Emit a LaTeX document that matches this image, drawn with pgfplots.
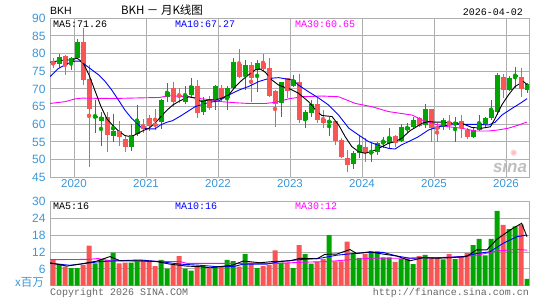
\documentclass[border=0pt]{standalone}
\usepackage{pgfplots}
\pgfplotsset{compat=1.18}
\usepackage{pgfplotstable}
\usepackage{fontspec}
\setmainfont{Liberation Sans}
\newfontfamily\mono{Liberation Mono}
\newfontfamily\cjk{Noto Sans CJK SC}
\newfontfamily\dejavu{DejaVu Sans}
\definecolor{up}{RGB}{0,165,0}
\definecolor{dn}{RGB}{250,85,85}
\definecolor{lbl}{RGB}{60,150,215}
\definecolor{grd}{RGB}{175,175,175}
\definecolor{mag}{RGB}{255,0,255}
\definecolor{ma10}{RGB}{0,0,255}

\pgfplotstableread{
i o h l c
1 77.1 79.8 76.0 79.0
3 77.5 79.0 75.4 78.9
4 78.9 84.2 78.5 83.2
7 62.0 67.0 57.6 62.3
8 61.0 63.4 54.0 62.2
10 56.8 62.8 55.0 58.1
13 53.6 60.0 52.5 57.0
14 57.2 65.5 56.6 60.9
18 60.7 67.2 58.6 67.0
19 67.8 71.6 66.2 69.2
22 66.2 70.7 65.8 68.3
23 68.3 73.2 67.8 70.7
25 63.6 67.8 62.6 66.9
27 66.9 71.1 64.0 70.9
29 67.5 70.7 64.0 70.4
30 70.2 78.7 70.0 77.5
32 74.0 78.2 69.7 76.8
34 75.4 78.2 69.2 77.3
38 65.9 72.1 62.2 71.9
40 70.9 74.0 70.5 72.5
42 61.2 64.0 58.9 63.6
43 63.1 66.9 62.2 65.7
46 60.6 62.2 56.8 60.8
50 48.7 52.5 47.4 51.8
51 51.8 57.0 50.4 54.2
53 52.0 54.6 49.4 52.3
54 52.3 55.0 51.3 54.6
55 55.0 56.5 53.2 55.2
56 54.6 59.0 53.2 56.5
58 55.3 60.0 55.0 59.1
59 58.4 60.3 57.5 59.3
60 59.3 62.2 58.9 61.2
62 59.8 65.7 58.9 64.2
65 59.3 61.7 58.4 61.2
67 59.8 62.2 55.1 60.6
70 56.5 58.9 56.0 58.4
71 58.4 62.6 58.0 60.3
72 60.0 62.2 59.3 61.9
73 61.7 66.9 61.3 64.0
74 63.6 74.4 62.6 74.0
76 69.7 73.8 69.3 73.2
77 73.6 76.3 70.4 73.9
79 69.7 71.6 69.0 71.3
}\upT

\pgfplotstableread{
i o h l c
0 77.5 78.7 75.8 77.2
2 79.2 79.6 74.0 76.8
5 83.4 87.2 71.1 72.5
6 72.8 76.8 48.0 64.3
9 62.2 63.6 52.3 57.0
11 58.2 61.0 54.0 56.5
12 55.8 57.0 52.1 53.7
15 59.5 61.5 57.5 59.0
16 61.8 62.7 58.0 59.4
17 60.2 64.2 58.4 59.6
20 70.4 72.0 65.0 66.2
21 68.2 70.4 66.0 67.9
24 70.8 72.5 61.9 63.1
26 67.2 67.9 64.0 64.7
28 70.2 71.0 66.6 67.5
31 77.0 81.3 73.2 73.5
33 76.8 77.7 66.4 73.2
35 77.3 79.8 75.0 75.7
36 75.8 78.7 67.8 68.1
37 69.4 69.6 59.1 65.7
39 73.0 73.2 67.4 69.4
41 72.1 74.2 60.3 61.2
44 65.7 67.4 60.3 61.2
45 61.5 64.0 58.9 60.3
47 60.8 61.0 54.2 55.3
48 55.6 56.0 50.4 50.8
49 50.6 52.7 46.6 48.5
52 53.7 56.0 49.4 51.8
57 56.8 57.0 53.7 54.6
61 61.7 62.2 59.3 59.6
63 64.2 64.4 55.1 58.9
64 59.2 60.3 55.1 58.7
66 60.6 62.5 58.4 60.0
68 60.9 62.6 56.0 58.9
69 58.4 58.9 55.8 56.5
75 73.4 74.2 67.4 69.7
78 73.3 75.8 67.8 70.0
}\dnT

\pgfplotstableread{
i v
1 7.8
3 6.3
4 6.3
7 8.0
8 9.5
10 11.8
13 8.2
14 8.9
18 9.2
19 6.1
22 6.1
23 5.4
25 7.1
27 6.6
29 9.2
30 8.8
32 11.3
34 6.3
38 8.2
40 6.3
42 11.3
43 7.9
46 18.1
50 11.7
51 9.9
53 12.3
54 12.3
55 10.1
56 10.1
58 9.5
59 9.5
60 7.7
62 11.0
65 9.4
67 9.5
70 14.5
71 16.7
72 10.8
73 16.7
74 26.7
76 20.2
77 21.2
79 2.4
}\vupT

\pgfplotstableread{
i v
0 9.5
2 6.8
5 7.4
6 14.3
9 9.2
11 8.0
12 8.2
15 8.9
16 8.9
17 7.0
20 7.4
21 10.6
24 6.8
26 6.2
28 6.6
31 6.8
33 8.2
35 7.0
36 7.4
37 12.6
39 8.2
41 14.5
44 8.5
45 9.5
47 8.7
48 8.7
49 15.7
52 11.3
57 8.5
61 10.6
63 9.9
64 9.9
66 11.3
68 10.5
69 11.7
75 21.7
78 21.8
}\vdnT

\begin{document}
\begin{tikzpicture}[x=1pt,y=1pt]
\useasboundingbox (0,0) rectangle (545,300);
% ---------------- price panel
\begin{axis}[at={(50pt,122.7pt)}, anchor=south west, scale only axis,
  width=479pt, height=159pt,
  xmin=-0.5, xmax=79.33, ymin=45, ymax=90,
  ytick={45,50,...,90},
  xtick={3.5,15.5,27.5,39.5,51.5,63.5,75.5},
  xticklabels={2020,2021,2022,2023,2024,2025,2026},
  grid=major, grid style={grd, line width=1pt},
  axis line style={grd, line width=1pt},
  major tick length=0pt,
  /pgf/number format/assume math mode=true,
  yticklabel style={text=lbl, font=\fontsize{12}{12}\selectfont, xshift=-1pt},
  xticklabel style={text=lbl, font=\fontsize{11.5}{12}\selectfont, yshift=1pt},
  clip=true]
% wicks
\addplot[up, only marks, mark=none, forget plot,
  error bars/.cd, y dir=both, y explicit, error mark=none,
  error bar style={line width=1pt, up}]
  table[x=i, y expr={(\thisrow{h}+\thisrow{l})/2}, y error expr={(\thisrow{h}-\thisrow{l})/2}]{\upT};
\addplot[dn, only marks, mark=none, forget plot,
  error bars/.cd, y dir=both, y explicit, error mark=none,
  error bar style={line width=1pt, dn}]
  table[x=i, y expr={(\thisrow{h}+\thisrow{l})/2}, y error expr={(\thisrow{h}-\thisrow{l})/2}]{\dnT};
% bodies
\addplot[up, only marks, mark=none, forget plot,
  error bars/.cd, y dir=both, y explicit, error mark=none,
  error bar style={line width=5pt, up}]
  table[x=i, y expr={(\thisrow{o}+\thisrow{c})/2}, y error expr={max(abs(\thisrow{o}-\thisrow{c})/2,0.15)}]{\upT};
\addplot[dn, only marks, mark=none, forget plot,
  error bars/.cd, y dir=both, y explicit, error mark=none,
  error bar style={line width=5pt, dn}]
  table[x=i, y expr={(\thisrow{o}+\thisrow{c})/2}, y error expr={max(abs(\thisrow{o}-\thisrow{c})/2,0.15)}]{\dnT};
% MA lines
\addplot[mag, line width=0.9pt, mark=none] coordinates {(-0.5,65.9)(2,66.4)(3.7,67.2)(4.8,67.4)(10,67.3)(17.8,67.6)(19.25,68.1)(22.6,67.8)(24.8,67.2)(26.5,66.9)(28.1,66.4)(30.4,66.1)(32.6,65.9)(35.4,65.9)(37,66.2)(39.25,67.2)(41.5,67.8)(44.8,68)(47.6,67.8)(50.4,65.9)(53.1,65)(55.9,63.6)(59.9,62.6)(61.5,61.2)(63.7,60)(65.9,59.3)(68.1,58.9)(70.4,58.1)(72.6,58.1)(74.2,58.4)(75.9,58.9)(77.6,59.8)(79,60.65)};
\addplot[ma10, line width=0.9pt, mark=none] coordinates {(-0.5,73.5)(0.9,75.8)(2.6,77.3)(3.7,77.9)(4.5,77.9)(5.4,76.8)(6.5,75.4)(7.6,74)(8.7,72.1)(9.8,69.7)(10.9,66.9)(12,64)(13.1,61.7)(14,60.3)(14.8,58.9)(15.9,58.7)(17,58.7)(17.9,59.8)(19,60.6)(19.9,61)(21.5,62.6)(23.7,65)(26,66.2)(27.6,66.6)(29.3,68.3)(31,69.7)(32.6,70.7)(34.3,72.1)(36,73)(37.6,73.2)(40,72.5)(40.9,71.1)(42.6,69.2)(44.3,67.4)(45.9,65.5)(47.6,62.6)(49.3,58.9)(50.9,57)(52.6,55.1)(54.3,54)(55.9,53.2)(57,53)(58.1,54.2)(59.5,55.3)(60.9,56.5)(62.6,58.4)(64.25,59.3)(65.9,59.8)(67.6,60)(69.25,60)(70.9,60)(72.6,59.8)(73.7,60.6)(74.8,62.6)(76.5,64.5)(78.1,66.2)(79,67.27)};
\addplot[black, line width=0.9pt, mark=none] coordinates {(-0.5,77.6)(0,77.7)(1,78.0)(2,78.2)(3,78.2)(4,78.7)(5,77.5)(6,74)(7,69.5)(8,65)(9,61.5)(10,59.6)(11,58)(12,56.8)(13,56.5)(14,57.3)(15,58.2)(16,58.9)(17,60.3)(18,62.2)(19,64.0)(20,65.5)(21,66.5)(22.6,67.8)(23.7,67.4)(24.8,66.4)(25.9,66.9)(27,66.9)(28.1,67.4)(29.3,68.3)(30.4,70.7)(31.5,72.5)(32.6,74)(33.7,75.4)(34.5,75.7)(35.4,74.7)(36.5,72.5)(37.6,71.1)(38.7,70.4)(39.5,70)(40.9,68.8)(42.6,66.4)(44,63.6)(44.8,62.5)(46.5,62.2)(47.6,59.8)(48.7,56.5)(49.8,53.7)(50.9,52.3)(52,51.8)(53.1,52.3)(54.3,53.2)(55.9,54.6)(57,55.1)(58.1,56)(59.5,58.2)(60.4,59.1)(61.5,60.3)(62.6,60.8)(63.7,60.6)(64.8,60.6)(66.5,60.3)(68.1,60.3)(69.8,59.1)(71.5,58.9)(72.9,59.3)(73.7,61.7)(74.8,65.5)(75.9,68.3)(77,70.7)(78.4,72.1)(79,71.26)};
\end{axis}
% ---------------- volume panel
\begin{axis}[at={(50pt,14.3pt)}, anchor=south west, scale only axis,
  width=479pt, height=84pt,
  xmin=-0.5, xmax=79.33, ymin=0, ymax=30,
  ytick={0,6,12,18,24,30}, yticklabels={,6,12,18,24,30},
  xtick=\empty,
  ymajorgrids, grid style={grd, line width=1pt},
  axis line style={grd, line width=1pt},
  major tick length=0pt,
  yticklabel style={text=lbl, font=\fontsize{12}{12}\selectfont, xshift=-1pt},
  clip=true]
\addplot[ybar, bar width=5pt, fill=up, draw=none, forget plot] table[x=i,y=v]{\vupT};
\addplot[ybar, bar width=5pt, fill=dn, draw=none, forget plot] table[x=i,y=v]{\vdnT};
\addplot[mag, line width=0.9pt, mark=none] coordinates {(-0.5,9.3)(6,9.4)(7.5,9.7)(9.5,8.9)(21.2,8.6)(22.3,8.0)(37.8,8.0)(41.7,8.4)(45.6,8.6)(49,9.2)(52.8,9.8)(58.4,9.8)(63.9,10.0)(68.4,10.4)(70.6,10.9)(74,12.4)(77.3,13)(79,12.7)};
\addplot[ma10, line width=0.9pt, mark=none] coordinates {(-0.5,8.0)(2.8,7.3)(5.6,8.0)(7.8,8.6)(10.6,8.9)(14.5,9.2)(17.8,8.6)(21.2,7.7)(24.5,7.3)(27.3,6.8)(30,6.8)(31.7,7.7)(35.6,7.7)(37.8,8.6)(40.6,9.2)(44.5,9.8)(47.3,10.9)(50.1,11.5)(52.8,11.9)(55,11.9)(57.3,10.6)(59.5,9.8)(61.7,10)(65,10)(68.4,10.4)(70.6,11.5)(72.8,12.1)(75,15.1)(77.3,17.5)(78.9,18.1)(79,17.8)};
\addplot[black, line width=0.9pt, mark=none] coordinates {(-0.5,8.2)(2.3,7.0)(4.5,7.7)(7.3,8.8)(9.5,10.4)(11.2,8.9)(14.5,8.9)(17.3,8.6)(19.5,7.7)(22.3,7.0)(24.5,6.8)(26.2,6.4)(27.8,6.8)(30,7.4)(31.7,8.8)(34.5,8.2)(36.5,8.6)(39.5,8.9)(41.2,9.8)(44,9.6)(45.3,11.2)(47.3,11.3)(49.5,12.9)(50.6,11.5)(52.8,12.1)(55,11.3)(57.3,10.6)(59.5,8.9)(61.7,10)(63.9,9.8)(66.2,10)(68.9,10.4)(70.6,12.8)(72.3,12.8)(74,16.6)(76.2,19.9)(78.1,22.3)(79,17.5)};
\end{axis}
% ---------------- texts
\node[anchor=west, inner sep=0pt, font=\fontsize{10.5}{11}\selectfont] at (50,289) {BKH};
\node[anchor=center, inner sep=0pt, font=\cjk\fontsize{11.5}{12}\selectfont] at (162,290) {BKH － 月K线图};
\node[anchor=east, inner sep=0pt, font=\mono\fontsize{10}{10}\selectfont] at (523,288) {2026-04-02};
\node[anchor=west, inner sep=0pt, font=\mono\fontsize{10}{10}\selectfont] at (53,276) {MA5:71.26};
\node[anchor=west, inner sep=0pt, font=\mono\fontsize{10}{10}\selectfont, text=ma10] at (175,276) {MA10:67.27};
\node[anchor=west, inner sep=0pt, font=\mono\fontsize{10}{10}\selectfont, text=mag] at (295,276) {MA30:60.65};
\node[anchor=west, inner sep=0pt, font=\mono\fontsize{10}{10}\selectfont] at (53,94) {MA5:16};
\node[anchor=west, inner sep=0pt, font=\mono\fontsize{10}{10}\selectfont, text=ma10] at (175,94) {MA10:16};
\node[anchor=west, inner sep=0pt, font=\mono\fontsize{10}{10}\selectfont, text=mag] at (295,94) {MA30:12};
\node[anchor=east, inner sep=0pt, text=lbl, font=\cjk\fontsize{11.5}{12}\selectfont] at (44,18) {x百万};
\node[anchor=west, inner sep=0pt, text=black!60, font=\mono\fontsize{10}{10}\selectfont] at (50,7) {Copyright 2026 SINA.COM};
\node[anchor=east, inner sep=0pt, text=black!60, font=\mono\fontsize{10}{10}\selectfont] at (529,7) {http://finance.sina.com.cn};
\node[anchor=center, inner sep=0pt, text=black!25, font=\fontsize{17}{17}\bfseries\itshape\selectfont] at (510,134) {sina};
\node[anchor=center, inner sep=0pt, text=dn!40, font=\dejavu\fontsize{9}{9}\bfseries\selectfont] at (514,147) {✺};
\end{tikzpicture}
\end{document}
